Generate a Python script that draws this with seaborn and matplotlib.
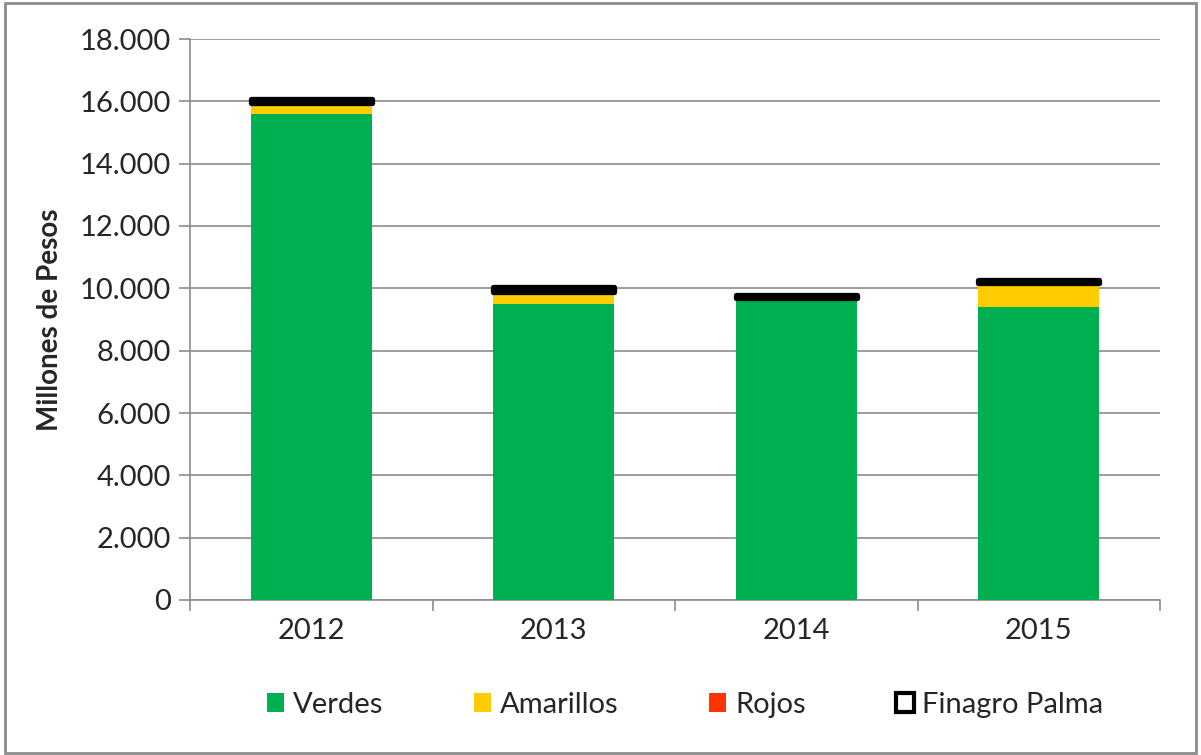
import numpy as np
import pandas as pd
import seaborn as sns
import matplotlib.pyplot as plt
from matplotlib.patches import Patch, Rectangle
from matplotlib.ticker import FuncFormatter, FixedLocator

years = ['2012', '2013', '2014', '2015']
verdes = [15585, 9505, 9602, 9410]
amarillos = [375, 392, 80, 754]
rojos = [0, 0, 0, 0]
finagro = [130, 130, 110, 100]

layers = [('Verdes', verdes, '#00B050'),
          ('Amarillos', amarillos, '#FFCC00'),
          ('Rojos', rojos, '#FF3300'),
          ('Finagro Palma', finagro, 'white')]

sns.set_style("white")
plt.rcParams['font.family'] = ['Lato', 'DejaVu Sans']

fig = plt.figure(figsize=(12.01, 7.55), dpi=100)
ax = fig.add_axes([190 / 1201, 1 - 600 / 755, 970 / 1201, 561 / 755])

bottom = np.zeros(len(years))
for name, vals, color in layers:
    df = pd.DataFrame({'year': years, 'val': vals})
    n_before = len(ax.patches)
    if name == 'Finagro Palma':
        sns.barplot(data=df, x='year', y='val', ax=ax, color=color, width=0.5,
                    saturation=1, edgecolor='black', linewidth=3.8, zorder=4)
    else:
        sns.barplot(data=df, x='year', y='val', ax=ax, color=color, width=0.5,
                    saturation=1, linewidth=0, zorder=3)
    for i, p in enumerate(ax.patches[n_before:]):
        p.set_y(bottom[i])
        p.set_joinstyle('round')
    bottom += np.array(vals)

ax.set_ylim(0, 18000)
ax.set_xlim(-0.5, 3.5)
ax.set_yticks(np.arange(0, 18001, 2000))
ax.yaxis.set_major_formatter(FuncFormatter(lambda v, p: f"{v:,.0f}".replace(',', '.')))
ax.yaxis.grid(True, color='#8c8c8c', linewidth=1.2)
ax.set_axisbelow(True)

for s in ['top', 'right']:
    ax.spines[s].set_visible(False)
for s in ['left', 'bottom']:
    ax.spines[s].set_color('#8c8c8c')
    ax.spines[s].set_linewidth(1.2)

ax.xaxis.set_minor_locator(FixedLocator([-0.5, 0.5, 1.5, 2.5, 3.5]))
ax.tick_params(axis='x', which='major', length=0, pad=13, labelsize=21)
ax.tick_params(axis='x', which='minor', length=8, width=1.2, color='#8c8c8c', direction='out')
ax.tick_params(axis='y', length=8, width=1.2, color='#8c8c8c', direction='out', labelsize=21, pad=6)
ax.tick_params(axis='y', left=True)
ax.tick_params(axis='x', which='minor', bottom=True)

ax.set_xlabel('')
ax.set_ylabel('Millones de Pesos', fontsize=20, fontweight='bold', labelpad=12)

handles = [Patch(facecolor=c, edgecolor='black' if n == 'Finagro Palma' else c,
                 linewidth=3 if n == 'Finagro Palma' else 0, label=n)
           for n, _, c in layers]
fig.legend(handles=handles, loc='center', bbox_to_anchor=(685 / 1201, 1 - 705 / 755),
           ncol=4, frameon=False, fontsize=21, handlelength=0.6, handleheight=0.6,
           handletextpad=0.3, columnspacing=3.1)

fig.patches.append(Rectangle((0.004, 0.003), 0.992, 0.993, transform=fig.transFigure,
                             fill=False, edgecolor='#8c8c8c', linewidth=2))

fig.savefig('out.png', dpi=100)
